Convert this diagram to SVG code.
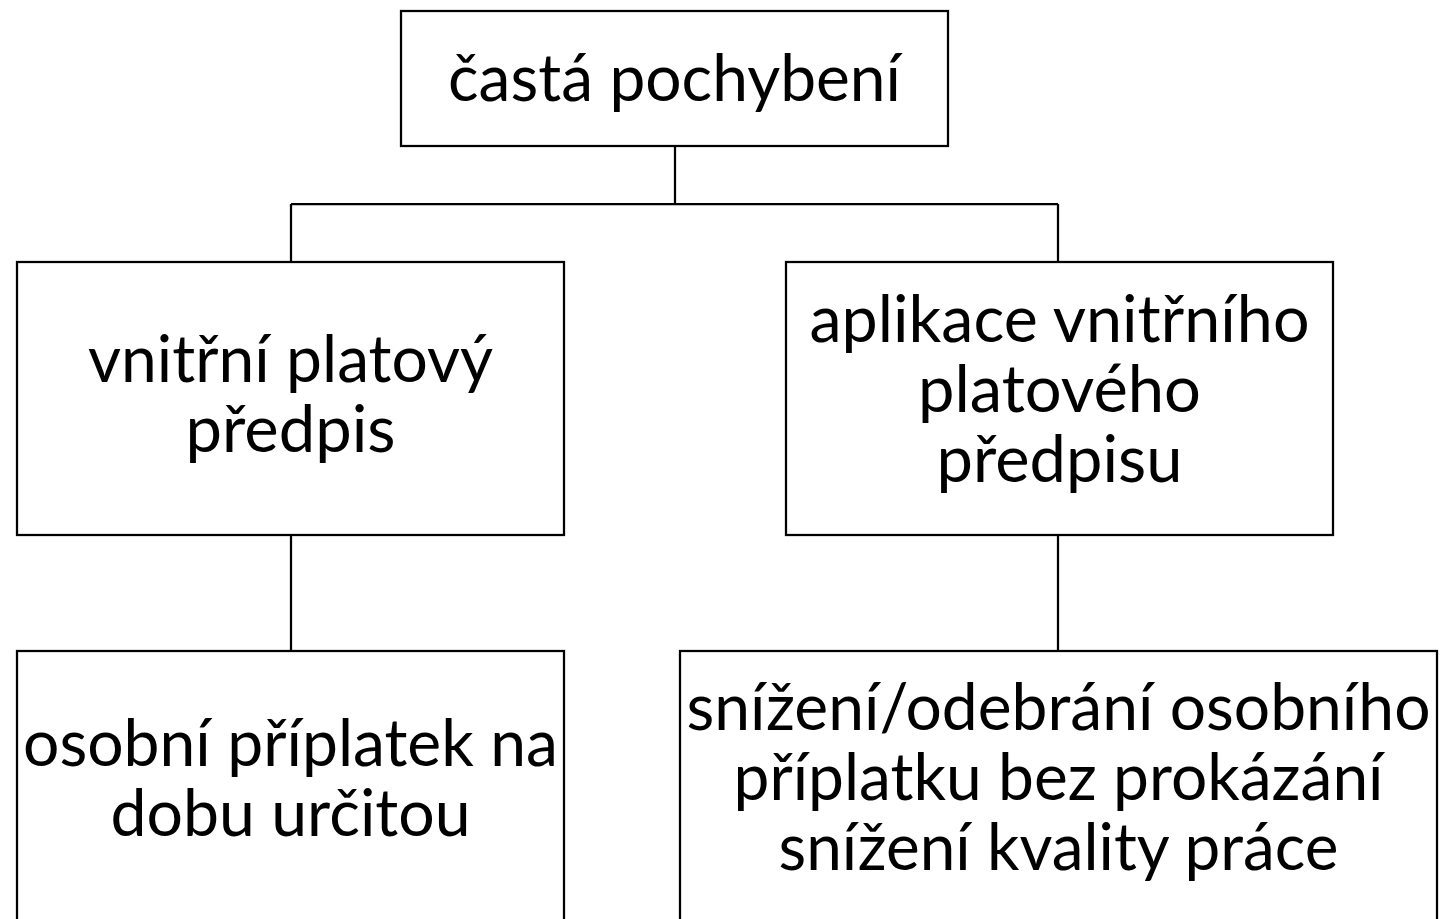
<svg xmlns="http://www.w3.org/2000/svg" width="1440" height="919" viewBox="0 0 1440 919">
<style>
.box{fill:#fff;stroke:#000;stroke-width:2.25}
.conn{fill:none;stroke:#000;stroke-width:2.25}
.t{font-family:Lato,"Open Sans","Liberation Sans",sans-serif;font-size:65px;fill:#000;text-anchor:middle}
</style>
<rect width="1440" height="919" fill="#fff"/>
<g id="connectors">
<path class="conn" d="M675,146 V204 M291,204 H1058 M291,204 V262 M1058,204 V262 M291,535 V651 M1058,535 V651"/>
</g>
<g id="node-top">
<rect class="box" x="401" y="11" width="547" height="135"/>
<text class="t" x="674.5" y="101" textLength="453" lengthAdjust="spacingAndGlyphs">častá pochybení</text>
</g>
<g id="node-left-mid">
<rect class="box" x="17" y="262" width="547" height="273"/>
<text class="t" x="290.5" y="382" textLength="405" lengthAdjust="spacingAndGlyphs">vnitřní platový</text>
<text class="t" x="290.5" y="452" textLength="210" lengthAdjust="spacingAndGlyphs">předpis</text>
</g>
<g id="node-right-mid">
<rect class="box" x="786" y="262" width="547" height="273"/>
<text class="t" x="1059.5" y="342" textLength="500" lengthAdjust="spacingAndGlyphs">aplikace vnitřního</text>
<text class="t" x="1059.5" y="412" textLength="283" lengthAdjust="spacingAndGlyphs">platového</text>
<text class="t" x="1059.5" y="482" textLength="246" lengthAdjust="spacingAndGlyphs">předpisu</text>
</g>
<g id="node-left-bottom">
<rect class="box" x="17" y="651" width="547" height="280"/>
<text class="t" x="290.5" y="766" textLength="535" lengthAdjust="spacingAndGlyphs">osobní příplatek na</text>
<text class="t" x="290.5" y="836" textLength="360" lengthAdjust="spacingAndGlyphs">dobu určitou</text>
</g>
<g id="node-right-bottom">
<rect class="box" x="680" y="651" width="757" height="280"/>
<text class="t" x="1058.5" y="730" textLength="744" lengthAdjust="spacingAndGlyphs">snížení/odebrání osobního</text>
<text class="t" x="1058.5" y="800" textLength="650" lengthAdjust="spacingAndGlyphs">příplatku bez prokázání</text>
<text class="t" x="1058.5" y="870" textLength="560" lengthAdjust="spacingAndGlyphs">snížení kvality práce</text>
</g>
</svg>
